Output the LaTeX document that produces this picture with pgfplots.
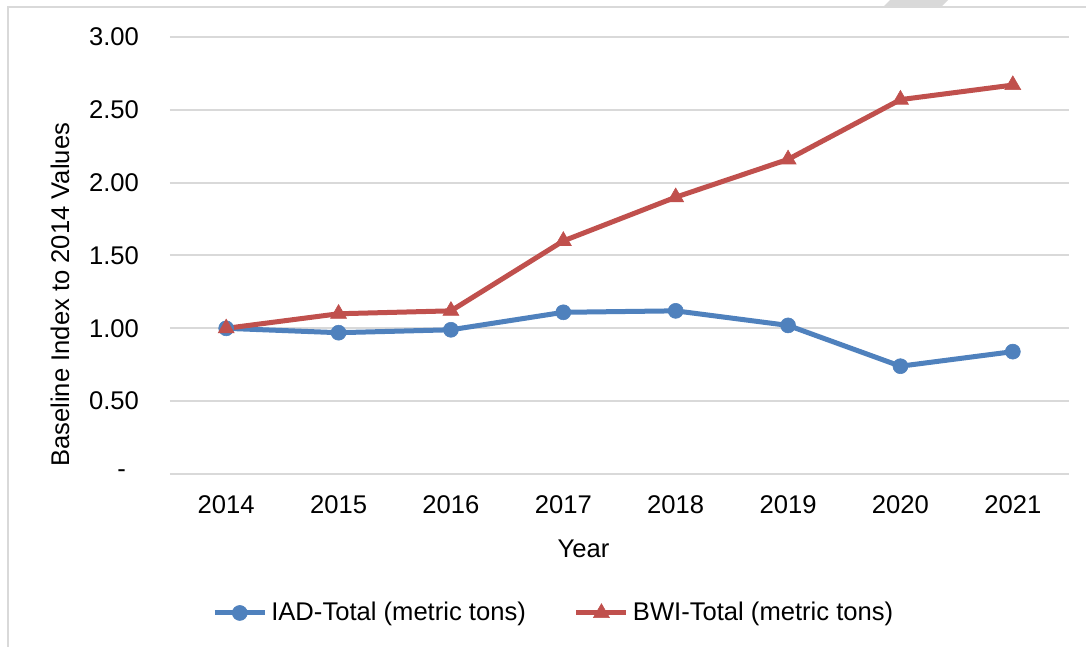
\documentclass[border=0pt]{standalone}
\usepackage{fontspec}
\setmainfont{Liberation Sans}
\usepackage{pgfplots}
\pgfplotsset{compat=1.18}
\definecolor{iadblue}{HTML}{4F81BD}
\definecolor{bwired}{HTML}{C0504D}
\definecolor{gridgray}{HTML}{D9D9D9}

\begin{document}
\begin{tikzpicture}[font=\fontsize{12.8}{15}\selectfont]
\useasboundingbox (0,0) rectangle (543pt,323.5pt);
\fill[white] (0,0) rectangle (543pt,323.5pt);
\draw[gridgray, line width=1pt] (4pt,0) -- (4pt,320pt) -- (543pt,320pt);
\fill[gridgray] (441.5pt,320pt) -- (445pt,323.5pt) -- (474pt,323.5pt) -- (470.5pt,320pt) -- cycle;
\begin{axis}[
  at={(85pt,86.5pt)}, anchor=south west,
  scale only axis, width=449.5pt, height=218.5pt,
  xmin=-0.5, xmax=7.5, ymin=0, ymax=3,
  xtick={0,1,2,3,4,5,6,7},
  xticklabels={2014,2015,2016,2017,2018,2019,2020,2021},
  ytick={0,0.5,1,1.5,2,2.5,3},
  yticklabels={{-\kern6.5pt\mbox{}},0.50,1.00,1.50,2.00,2.50,3.00},
  axis line style={draw=none},
  major tick length=0pt,
  ymajorgrids, grid style={gridgray, line width=1pt},
  xticklabel style={anchor=center, yshift=-15.5pt},
  yticklabel style={anchor=east, xshift=-12pt},
  xlabel={Year}, ylabel={Baseline Index to 2014 Values},
  every axis x label/.style={at={(axis description cs:0.46,0)}, yshift=-37.5pt, anchor=center},
  every axis y label/.style={at={(axis description cs:0,0.41)}, xshift=-55pt, rotate=90, anchor=center},
  clip=false,
  legend columns=2,
  legend style={at={(axis description cs:0.428,-0.318)}, anchor=center, draw=none, fill=none,
    /tikz/every even column/.append style={column sep=22pt},
    nodes={inner sep=2pt}},
  legend image code/.code={\draw[mark repeat=2,mark phase=2] plot coordinates {(0pt,0pt) (12.5pt,0pt) (25pt,0pt)};},
]
\addplot[iadblue, line width=2.5pt, mark=*, mark size=3.75pt, mark options={solid, line width=0.3pt, fill=iadblue}]
  coordinates {(0,1.00) (1,0.97) (2,0.99) (3,1.11) (4,1.12) (5,1.02) (6,0.74) (7,0.84)};
\addlegendentry{IAD-Total (metric tons)}
\addplot[bwired, line width=2.5pt, mark=triangle*, mark size=4.6pt, mark options={solid, line width=0.3pt, fill=bwired}]
  coordinates {(0,1.00) (1,1.10) (2,1.12) (3,1.60) (4,1.90) (5,2.16) (6,2.57) (7,2.67)};
\addlegendentry{BWI-Total (metric tons)}
\end{axis}
\end{tikzpicture}
\end{document}
